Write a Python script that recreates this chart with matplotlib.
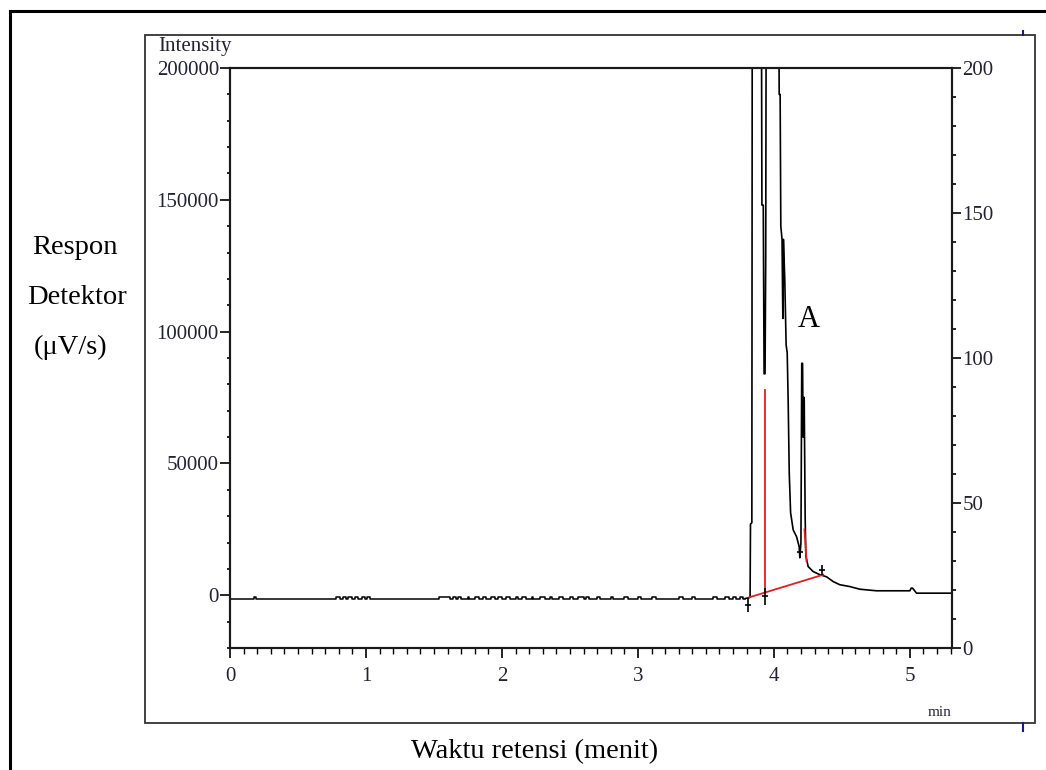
import numpy as np
import matplotlib.pyplot as plt
from matplotlib.patches import Rectangle
from matplotlib.lines import Line2D
from matplotlib.ticker import MultipleLocator

plt.rcParams['font.family'] = ['Liberation Serif', 'DejaVu Serif']

## chromatogram data (time in min, intensity)
# flat baseline with small noise steps
base_level = -1500
noise_level = -700
noise_start = [0.18, 0.78, 0.83, 0.87, 0.92, 0.97, 1.01, 1.54, 1.64, 1.68, 1.75, 1.80,
               1.86, 1.92, 1.97, 2.03, 2.10, 2.15, 2.22, 2.28, 2.35, 2.42, 2.50, 2.56,
               2.62, 2.70, 2.80, 2.90, 3.00, 3.10, 3.30, 3.40, 3.55, 3.64, 3.70, 3.75]
noise_end = [0.19, 0.81, 0.85, 0.90, 0.94, 0.99, 1.03, 1.62, 1.66, 1.70, 1.76, 1.83,
             1.88, 1.95, 2.00, 2.06, 2.12, 2.18, 2.23, 2.32, 2.37, 2.45, 2.52, 2.60,
             2.64, 2.72, 2.82, 2.93, 3.02, 3.13, 3.33, 3.42, 3.58, 3.67, 3.72, 3.77]

# peak region (values above 200000 are off scale)
peak_t = [3.790, 3.811, 3.825, 3.828, 3.838, 3.842, 3.905, 3.912, 3.922, 3.928, 3.935,
          3.940, 3.946, 4.030, 4.039, 4.046, 4.051, 4.060, 4.064, 4.066, 4.070, 4.080,
          4.090, 4.098, 4.105, 4.113, 4.123, 4.142, 4.167, 4.186, 4.191, 4.199, 4.205,
          4.211, 4.215, 4.218, 4.223, 4.230, 4.235, 4.252, 4.289, 4.338, 4.388, 4.436,
          4.485, 4.559, 4.632, 4.755, 5.000, 5.010, 5.020, 5.049, 5.310]
peak_y = [-1200, -1000, -800, 27000, 27500, 300000, 300000, 148000, 148000, 84000, 84000,
          128000, 300000, 300000, 190000, 190000, 140000, 135000, 114000, 105000, 135000, 120000,
          95000, 92000, 74000, 46400, 31300, 24800, 22200, 18400, 14200, 20000, 88000,
          88000, 60000, 75000, 75000, 30000, 15000, 10900, 9000, 7800, 7000, 5200,
          4000, 3300, 2300, 1700, 1700, 2700, 2700, 800, 800]

# integration (red) lines
int_base_t = [3.818, 4.363]
int_base_y = [-800, 7800]
drop_t = 3.936
drop_y = [1000, 78000]
mark_t = [3.811, 3.936, 4.190, 4.351]
mark_lo = [-6200, -3600, 14200, 7800]
mark_hi = [-1000, 2800, 18400, 11600]

x_ticks = [0, 1, 2, 3, 4, 5]
left_ticks = [0, 50000, 100000, 150000, 200000]
right_ticks = [0, 50, 100, 150, 200]

## build baseline as steps
bt = [0.0]
by = [base_level]
for s, e in zip(noise_start, noise_end):
    bt += [s, s, e, e]
    by += [base_level, noise_level, noise_level, base_level]
bt.append(peak_t[0])
by.append(base_level)

fig = plt.figure(figsize=(10.46, 7.70), dpi=100)
W, H = 1046.0, 770.0

# frames of the screenshot
fig.add_artist(Line2D([10 / W, 10 / W], [0, 1 - 11 / H], color='black', lw=2.2))
fig.add_artist(Line2D([10 / W, 1], [1 - 11 / H, 1 - 11 / H], color='black', lw=2.2))
fig.add_artist(Rectangle((145 / W, 1 - 723 / H), 890 / W, 688 / H, fill=False,
                         edgecolor='#333333', lw=1.3))
fig.add_artist(Line2D([1023 / W, 1023 / W], [1 - 31 / H, 1 - 35 / H], color='#1a1a80', lw=1.5))
fig.add_artist(Line2D([1023 / W, 1023 / W], [1 - 723 / H, 1 - 731 / H], color='#1a1a80', lw=1.5))

ax = fig.add_axes([230 / W, 1 - 648 / H, 722 / W, 580 / H])
ax.plot(bt, by, color='black', lw=1.1)
ax.plot(peak_t, peak_y, color='black', lw=1.2)
ax.plot(int_base_t, int_base_y, color='#e02020', lw=1.3)
ax.plot([drop_t, drop_t], drop_y, color='#e02020', lw=1.3)
ax.plot([4.225, 4.240], [25000, 13000], color='#e02020', lw=1.3)
ax.vlines(mark_t, mark_lo, mark_hi, color='black', lw=1.2)
ax.plot(mark_t, [(a + b) / 2 for a, b in zip(mark_lo, mark_hi)], '_', color='black', ms=5, mew=1.2)

ax.set_xlim(0, 5.31)
ax.set_ylim(-20000, 200000)
ax.set_xticks(x_ticks)
ax.xaxis.set_minor_locator(MultipleLocator(0.1))
ax.set_yticks(left_ticks)
ax.yaxis.set_minor_locator(MultipleLocator(10000))
ax.set_xticklabels([str(v) for v in x_ticks])
ax.set_yticklabels([str(v) for v in left_ticks])

ax2 = ax.twinx()
ax2.set_ylim(0, 200)
ax2.set_yticks(right_ticks)
ax2.yaxis.set_minor_locator(MultipleLocator(10))
ax2.set_yticklabels([str(v) for v in right_ticks])

lab_col = '#222233'
for a in (ax, ax2):
    for sp in a.spines.values():
        sp.set_linewidth(1.5)
        sp.set_color('#1a1a1a')
ax.tick_params(axis='y', which='major', direction='out', length=7, width=1.2, pad=1,
               labelsize=15, labelcolor=lab_col)
ax.tick_params(axis='y', which='minor', direction='out', length=2.5, width=1.2)
ax.tick_params(axis='x', which='major', direction='out', length=7.5, width=1.2, pad=6,
               labelsize=15, labelcolor=lab_col)
ax.tick_params(axis='x', which='minor', direction='out', length=4, width=1.0)
ax2.tick_params(axis='y', which='major', direction='out', length=6.5, width=1.2, pad=1,
                labelsize=15, labelcolor=lab_col)
ax2.tick_params(axis='y', which='minor', direction='out', length=2.7, width=1.2)

# texts
fig.text(158 / W, 1 - 46 / H, 'Intensity', fontsize=15, color=lab_col, ha='left', va='center')
fig.text(940 / W, 1 - 713 / H, 'min', fontsize=11, color=lab_col, ha='center', va='center')
fig.text(809 / W, 1 - 319 / H, 'A', fontsize=22, ha='center', va='center')
fig.text(75 / W, 1 - 247 / H, 'Respon', fontsize=20.5, ha='center', va='center')
fig.text(77 / W, 1 - 298 / H, 'Detektor', fontsize=20.5, ha='center', va='center')
fig.text(71 / W, 1 - 347 / H, '(\u03bcV/s)', fontsize=20.5, ha='center', va='center')
fig.text(535 / W, 1 - 752 / H, 'Waktu retensi (menit)', fontsize=20.5, ha='center', va='center')

fig.savefig('out.png', dpi=100)
